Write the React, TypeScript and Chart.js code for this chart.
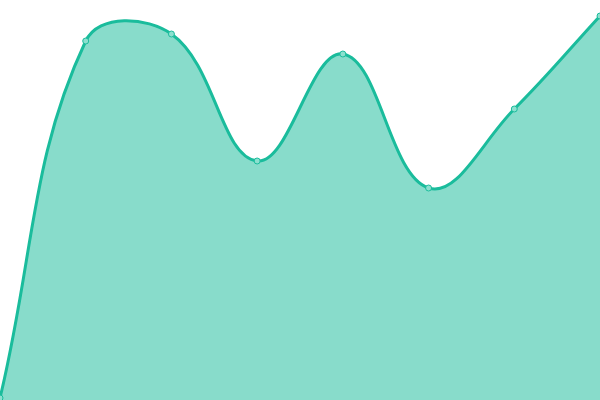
import React, { useEffect, useRef } from "react";
import { Chart, registerables } from "chart.js";

Chart.register(...registerables);

const labels = ["1", "2", "3", "4", "5", "6", "7", "8"];
const values = [0.5, 89.75, 91.5, 59.75, 86.5, 53, 72.75, 96];

export default function App() {
  const ref = useRef<HTMLCanvasElement | null>(null);
  useEffect(() => {
    if (!ref.current) return;
    const chart = new Chart(ref.current, {
      type: "line",
      data: {
        labels,
        datasets: [
          {
            data: values,
            borderColor: "#1abc9c",
            backgroundColor: "rgba(26,188,156,0.52)",
            fill: true,
            tension: 0.4,
            borderWidth: 3,
            pointRadius: 3,
            pointBorderWidth: 1,
            pointBackgroundColor: "#8ce0cf",
            pointBorderColor: "#1abc9c",
          },
        ],
      },
      options: {
        animation: false,
        responsive: true,
        maintainAspectRatio: false,
        layout: { padding: 0, autoPadding: false },
        plugins: { legend: { display: false }, tooltip: { enabled: false } },
        scales: {
          x: { display: false },
          y: { display: false, min: 0, max: 100 },
        },
      },
    });
    return () => chart.destroy();
  }, []);
  return (
    <div style={{ position: "fixed", left: 0, top: 0, width: 600, height: 400 }}>
      <canvas ref={ref} />
    </div>
  );
}
